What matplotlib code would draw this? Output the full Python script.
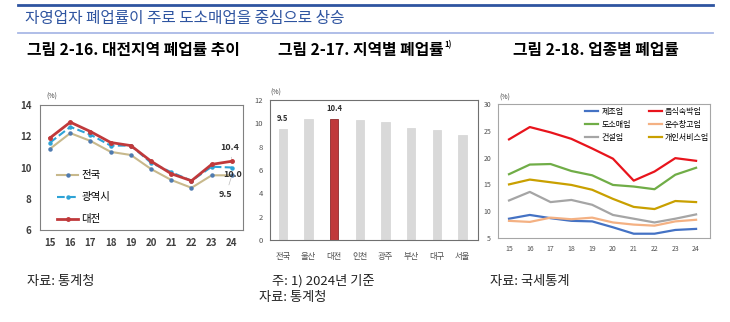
import matplotlib
matplotlib.use('Agg')
import matplotlib.pyplot as plt
from matplotlib.lines import Line2D

plt.rcParams['font.family'] = ['Noto Sans CJK KR', 'DejaVu Sans']

# ---------------------------
# 데이터
# ---------------------------
years = ['15', '16', '17', '18', '19', '20', '21', '22', '23', '24']

# 그림 2-16 대전지역 폐업률 추이
nation = [11.2, 12.2, 11.7, 11.0, 10.8, 9.9, 9.2, 8.7, 9.5, 9.5]
metro = [11.6, 12.6, 12.1, 11.4, 11.4, 10.3, 9.7, 9.15, 10.05, 10.0]
daejeon = [11.9, 12.9, 12.3, 11.6, 11.4, 10.4, 9.6, 9.15, 10.2, 10.4]

# 그림 2-17 지역별 폐업률 (2024)
regions = ['전국', '울산', '대전', '인천', '광주', '부산', '대구', '서울']
region_rate = [9.5, 10.4, 10.4, 10.3, 10.1, 9.6, 9.4, 9.0]

# 그림 2-18 업종별 폐업률
industries = ['제조업', '도소매업', '건설업', '음식숙박업', '운수창고업', '개인서비스업']
ind_rates = {
    '제조업': [8.6, 9.3, 8.7, 8.2, 8.1, 7.0, 5.8, 5.8, 6.5, 6.7],
    '도소매업': [16.9, 18.7, 18.8, 17.5, 16.7, 14.9, 14.6, 14.1, 16.8, 18.1],
    '건설업': [12.0, 13.6, 11.7, 12.1, 11.2, 9.3, 8.6, 7.9, 8.6, 9.4],
    '음식숙박업': [23.4, 25.7, 24.7, 23.5, 21.7, 19.8, 15.7, 17.4, 19.9, 19.4],
    '운수창고업': [8.2, 8.0, 8.8, 8.5, 8.8, 7.9, 7.5, 7.3, 8.1, 8.4],
    '개인서비스업': [15.0, 15.9, 15.4, 14.9, 14.0, 12.3, 10.8, 10.4, 11.9, 11.7],
}
ind_colors = ['#4472c4', '#70ad47', '#a5a5a5', '#e8141c', '#f4b183', '#c9a000']

W, H = 730, 322
fig = plt.figure(figsize=(W / 100, H / 100), dpi=100)


def px_axes(x0, y0, x1, y1):
    # 픽셀 좌표(왼쪽 위 기준)로 axes 생성
    return fig.add_axes([x0 / W, 1 - y1 / H, (x1 - x0) / W, (y1 - y0) / H])


def ftext(x, y, s, **kw):
    return fig.text(x / W, 1 - y / H, s, **kw)


# ---------------------------
# 머리글
# ---------------------------
fig.add_artist(Line2D([18 / W, 713 / W], [1 - 5 / H, 1 - 5 / H], color='#2e54a0', lw=2))
fig.add_artist(Line2D([18 / W, 713 / W], [1 - 33 / H, 1 - 33 / H], color='#a9b9e6', lw=1.3))
ftext(25, 19, '자영업자 폐업률이 주로 도소매업을 중심으로 상승', fontsize=11.3,
      color='#2e54a0', va='center', ha='left')
ftext(27, 50, '그림 2-16. 대전지역 폐업률 추이', fontsize=11.4, fontweight='bold', va='center')
t2 = ftext(278, 50, '그림 2-17. 지역별 폐업률', fontsize=11.4, fontweight='bold', va='center')
ftext(513, 50, '그림 2-18. 업종별 폐업률', fontsize=11.4, fontweight='bold', va='center')
fig.canvas.draw()
x_end = t2.get_window_extent().x1
ftext(x_end + 1, 45, '1)', fontsize=5.5, fontweight='bold', va='center')

# ---------------------------
# 그림 2-16
# ---------------------------
ax1 = px_axes(40, 105, 243, 230)
x = range(len(years))
ax1.plot(x, nation, color='#c8b98c', lw=1.5, marker='o', ms=2.2,
         mfc='#4f7bb0', mec='#4f7bb0', label='전국')
ax1.plot(x, metro, color='#2ea3d6', lw=1.5, ls='--', marker='o', ms=2.2,
         mfc='#2ea3d6', mec='#2ea3d6', label='광역시')
ax1.plot(x, daejeon, color='#c0393b', lw=2, marker='o', ms=2.5,
         mfc='#c0393b', mec='#c0393b', label='대전')
ax1.set_ylim(6, 14)
ax1.set_xlim(-0.5, 9.55)
ax1.set_yticks([6, 8, 10, 12, 14])
ax1.set_xticks(list(x))
ax1.set_xticklabels(years)
ax1.tick_params(length=0, labelsize=7, colors='#404040', pad=6)
for lab in ax1.get_xticklabels() + ax1.get_yticklabels():
    lab.set_fontweight('bold')
for s in ax1.spines.values():
    s.set_color('#808080')
    s.set_linewidth(0.8)
ax1.legend(loc='lower left', bbox_to_anchor=(0.04, -0.03), frameon=False, fontsize=7.5,
           handlelength=2.0, labelspacing=1.15, handletextpad=0.3)
ax1.text(-0.2, 14.25, '(%)', fontsize=5, color='#404040', va='bottom')
ax1.annotate('10.4', xy=(9, daejeon[-1]), xytext=(8.9, 11.3), fontsize=6.5,
             fontweight='bold', color='#303030', ha='center', va='center',
             arrowprops=dict(arrowstyle='-', color='#bbbbbb', lw=0.5))
ax1.annotate('10.0', xy=(9, metro[-1]), xytext=(9.05, 9.55), fontsize=6.5,
             fontweight='bold', color='#303030', ha='center', va='center')
ax1.annotate('9.5', xy=(9, nation[-1]), xytext=(8.7, 8.25), fontsize=6.5,
             fontweight='bold', color='#303030', ha='center', va='center',
             arrowprops=dict(arrowstyle='-', color='#bbbbbb', lw=0.5))

# ---------------------------
# 그림 2-17
# ---------------------------
ax2 = px_axes(270, 100, 478, 240)
bar_colors = ['#c0393b' if r == '대전' else '#d9d9d9' for r in regions]
edge_colors = ['#8e2a2c' if r == '대전' else '#d9d9d9' for r in regions]
ax2.bar(range(len(regions)), region_rate, width=0.32, color=bar_colors,
        edgecolor=edge_colors, linewidth=0.6)
ax2.set_ylim(0, 12)
ax2.set_xlim(-0.5, 7.6)
ax2.set_yticks(range(0, 13, 2))
ax2.set_xticks(range(len(regions)))
ax2.set_xticklabels(regions)
ax2.tick_params(length=0, labelsize=5.5, colors='#505050', pad=5)
ax2.tick_params(axis='x', labelsize=6, pad=9)
for s in ax2.spines.values():
    s.set_color('#707070')
    s.set_linewidth(0.8)
ax2.text(0, region_rate[0] + 0.5, '9.5', ha='center', va='bottom', fontsize=5.5,
         fontweight='bold', color='#303030')
ax2.text(2, region_rate[2] + 0.5, '10.4', ha='center', va='bottom', fontsize=5.5,
         fontweight='bold', color='#303030')
ax2.text(-0.5, 12.25, '(%)', fontsize=5, color='#404040', va='bottom')

# ---------------------------
# 그림 2-18
# ---------------------------
ax3 = px_axes(498, 104, 710, 238)
for name, c in zip(industries, ind_colors):
    ax3.plot(range(len(years)), ind_rates[name], color=c, lw=1.6, label=name)
ax3.set_ylim(5, 30)
ax3.set_xlim(-0.53, 9.67)
ax3.set_yticks(range(5, 31, 5))
ax3.set_xticks(range(len(years)))
ax3.set_xticklabels(years)
ax3.tick_params(length=0, labelsize=5, colors='#505050', pad=5)
for s in ax3.spines.values():
    s.set_color('#a6a6a6')
    s.set_linewidth(0.8)
ax3.legend(loc='upper right', bbox_to_anchor=(1.03, 1.035), ncol=2, frameon=False,
           fontsize=5.8, handlelength=1.6, columnspacing=2.2, labelspacing=0.5,
           handletextpad=0.4)
ax3.text(-0.45, 30.4, '(%)', fontsize=5, color='#404040', va='bottom')

# ---------------------------
# 출처
# ---------------------------
ftext(27, 282, '자료: 통계청', fontsize=9.5, va='center', color='#222222')
ftext(272, 281, '주: 1) 2024년 기준', fontsize=9.5, va='center', color='#222222')
ftext(259, 298, '자료: 통계청', fontsize=9.5, va='center', color='#222222')
ftext(490, 281, '자료: 국세통계', fontsize=9.5, va='center', color='#222222')

fig.savefig('out.png', dpi=100)
